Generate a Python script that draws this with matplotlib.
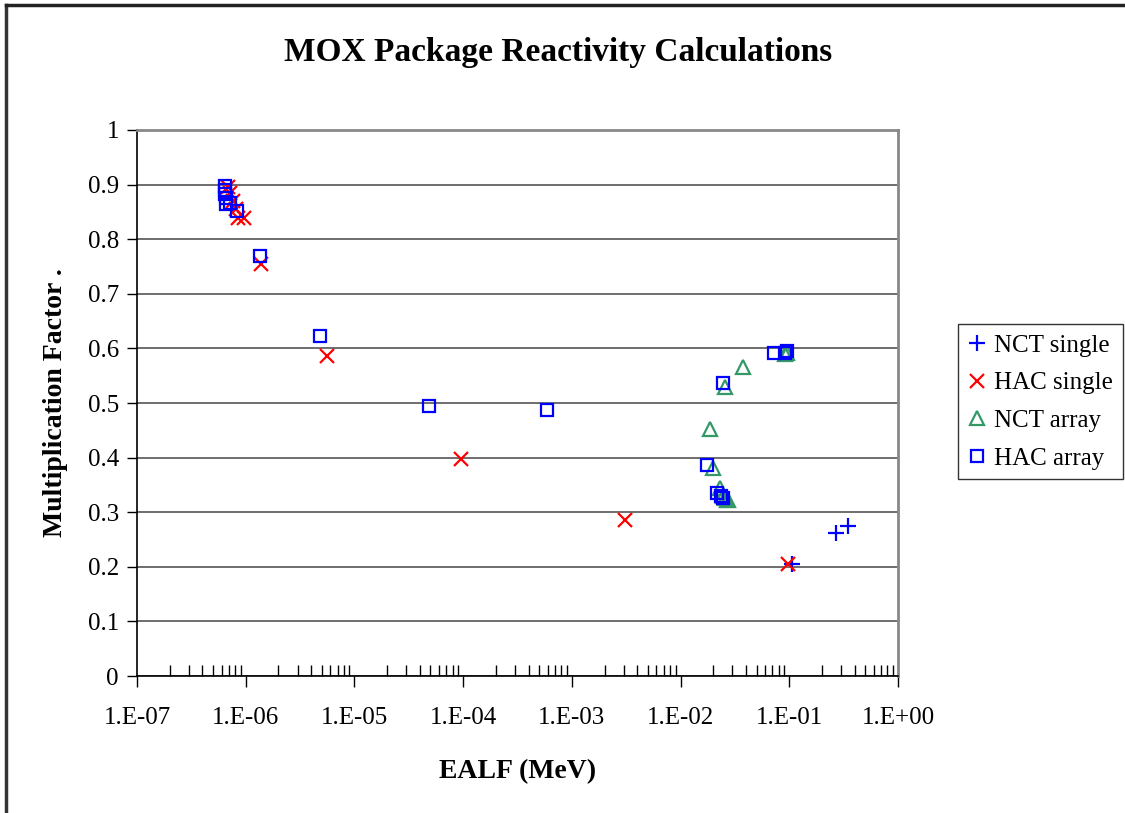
import numpy as np
import matplotlib.pyplot as plt
from matplotlib.lines import Line2D

plt.rcParams['font.family'] = ['Liberation Serif', 'DejaVu Serif']

# EALF (MeV) vs multiplication factor for each case set
nct_single_x = [0.105, 0.27, 0.35]
nct_single_y = [0.206, 0.262, 0.275]

hac_single_x = [6.8e-7, 7.2e-7, 7.6e-7, 8.2e-7, 8.5e-7, 9.6e-7, 1.38e-6, 5.6e-6, 9.6e-5, 3.1e-3, 0.098]
hac_single_y = [0.895, 0.885, 0.870, 0.855, 0.838, 0.838, 0.754, 0.587, 0.398, 0.285, 0.206]

nct_array_x = [0.0187, 0.0198, 0.0232, 0.0245, 0.0255, 0.0265, 0.0275, 0.0257, 0.0376, 0.092, 0.096]
nct_array_y = [0.453, 0.381, 0.345, 0.330, 0.326, 0.323, 0.322, 0.530, 0.566, 0.590, 0.592]

hac_array_x = [6.4e-7, 6.5e-7, 6.5e-7, 6.6e-7, 6.6e-7, 7.2e-7, 8.3e-7, 1.36e-6, 4.8e-6, 4.9e-5, 5.9e-4,
               0.0175, 0.0215, 0.0235, 0.0245, 0.0246, 0.072, 0.091, 0.095]
hac_array_y = [0.897, 0.890, 0.882, 0.875, 0.864, 0.866, 0.851, 0.769, 0.623, 0.494, 0.488,
               0.387, 0.335, 0.330, 0.326, 0.537, 0.591, 0.592, 0.595]

x_ticks = [1e-7, 1e-6, 1e-5, 1e-4, 1e-3, 1e-2, 1e-1, 1e0]
x_labels = ['1.E-07', '1.E-06', '1.E-05', '1.E-04', '1.E-03', '1.E-02', '1.E-01', '1.E+00']
y_ticks = np.arange(0, 1.01, 0.1)
y_labels = ['0', '0.1', '0.2', '0.3', '0.4', '0.5', '0.6', '0.7', '0.8', '0.9', '1']

fig = plt.figure(figsize=(11.25, 8.13), dpi=100)
ax = fig.add_axes([0.1218, 0.1685, 0.6764, 0.6716])

blue = '#0000FF'
red = '#FF0000'
green = '#339966'

ax.plot(nct_single_x, nct_single_y, ls='none', marker='+', ms=12, mew=1.6, color=blue, label='NCT single')
ax.plot(hac_single_x, hac_single_y, ls='none', marker='x', ms=10, mew=1.6, color=red, label='HAC single')
ax.plot(nct_array_x, nct_array_y, ls='none', marker='^', ms=10, mew=1.6, mfc='none', color=green, label='NCT array')
ax.plot(hac_array_x, hac_array_y, ls='none', marker='s', ms=9, mew=1.6, mfc='none', color=blue, label='HAC array')

ax.set_xscale('log')
ax.set_xlim(1e-7, 1)
ax.set_ylim(0, 1)
ax.set_xticks(x_ticks)
ax.set_xticklabels(x_labels)
ax.set_yticks(y_ticks)
ax.set_yticklabels(y_labels)
ax.grid(axis='y', color='#555555', lw=1.2)
ax.set_axisbelow(True)

ax.tick_params(which='major', direction='out', length=8, width=1, labelsize=18, pad=14)
ax.tick_params(axis='y', which='major', length=7, pad=6)
ax.tick_params(axis='x', which='minor', direction='in', length=8, width=1)
ax.tick_params(axis='y', which='minor', left=False)

for side in ['left', 'bottom']:
    ax.spines[side].set_color('black')
    ax.spines[side].set_linewidth(1.2)
for side in ['top', 'right']:
    ax.spines[side].set_color('#888888')
    ax.spines[side].set_linewidth(2)

ax.set_xlabel('EALF (MeV)', fontsize=20, fontweight='bold', labelpad=22)
ax.set_ylabel('Multiplication Factor .', fontsize=20, fontweight='bold', labelpad=14)
fig.suptitle('MOX Package Reactivity Calculations', fontsize=24, fontweight='bold', x=0.496, y=0.955)

leg = fig.legend(loc='center left', bbox_to_anchor=(958 / 1125, 1 - 402 / 813), fontsize=18,
                 frameon=True, fancybox=False, edgecolor='black', handlelength=0.7,
                 handletextpad=0.35, borderpad=0.4, labelspacing=0.6, borderaxespad=0)
leg.get_frame().set_linewidth(1.0)

# outer chart frame (left and top edges)
fig.add_artist(Line2D([0.005, 0.005], [0, 0.994], transform=fig.transFigure, color='#333333', lw=2.5))
fig.add_artist(Line2D([0.005, 1.0], [0.994, 0.994], transform=fig.transFigure, color='#222222', lw=2.5))

fig.savefig('out.png', dpi=100)
